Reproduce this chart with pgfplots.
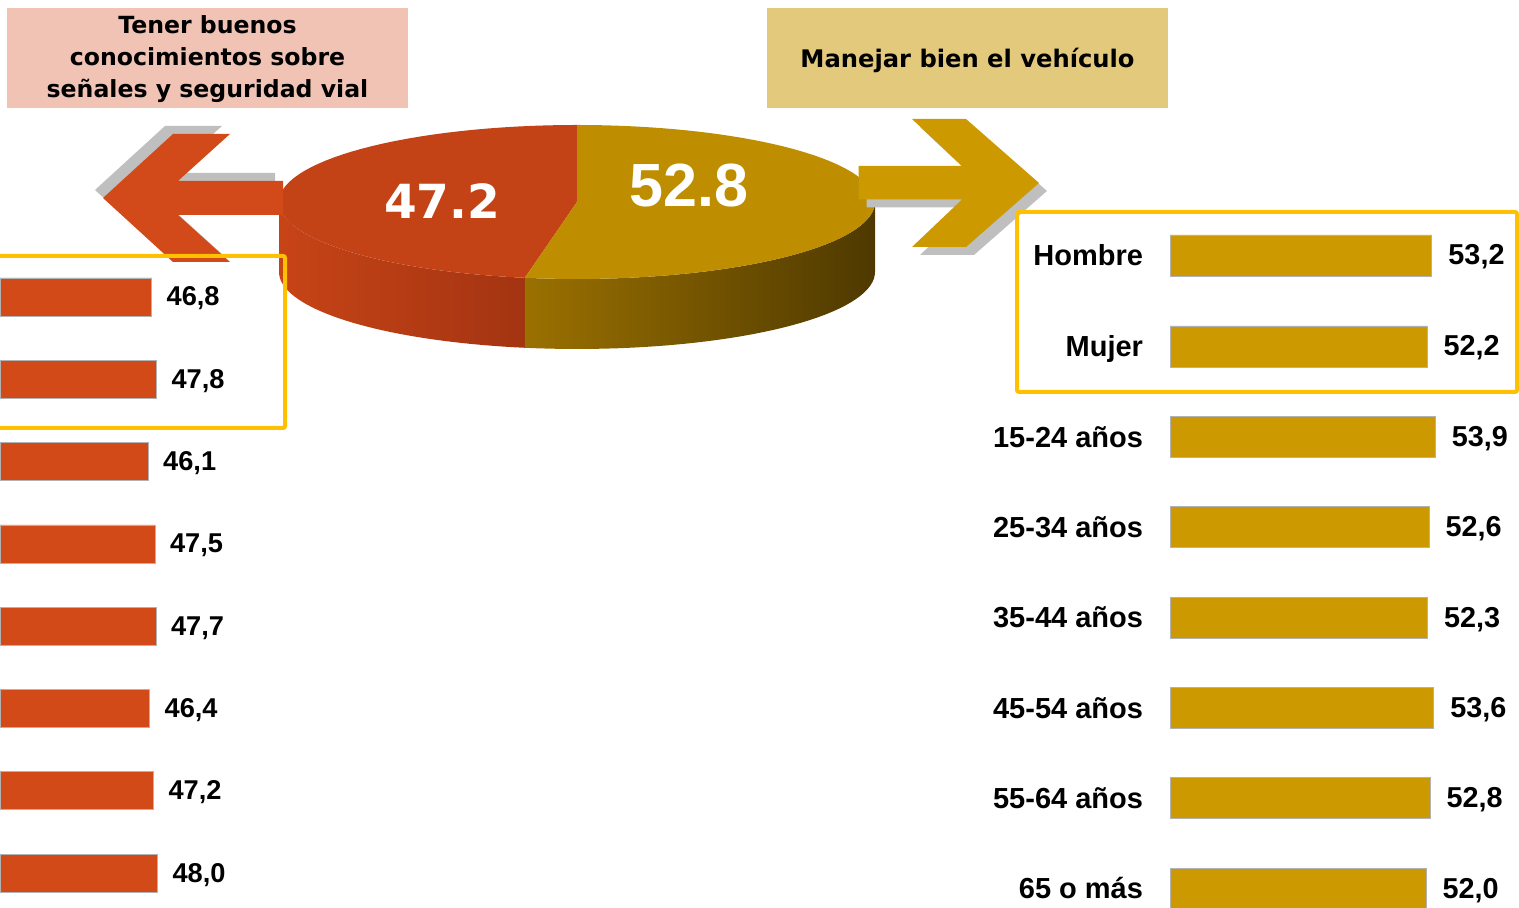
\documentclass[border=0pt]{standalone}
\usepackage{pgfplots}
\pgfplotsset{compat=1.18}
\usepackage{pgfplotstable}
\usepackage{fontspec}
\setmainfont{Liberation Sans}
\newfontfamily\dvs{DejaVu Sans}

\definecolor{leftbar}{RGB}{209,74,24}
\definecolor{rightbar}{RGB}{204,153,0}
\definecolor{pinkbox}{RGB}{241,195,180}
\definecolor{tanbox}{RGB}{227,201,124}
\definecolor{redtop}{RGB}{196,67,22}
\definecolor{goldtop}{RGB}{190,142,0}
\definecolor{redsideL}{RGB}{199,68,22}
\definecolor{redsideR}{RGB}{163,52,18}
\definecolor{goldsideL}{RGB}{154,112,0}
\definecolor{goldsideR}{RGB}{78,57,0}
\definecolor{arrowred}{RGB}{210,74,25}
\definecolor{arrowgold}{RGB}{204,153,0}
\definecolor{shadowgray}{RGB}{191,191,191}
\definecolor{framey}{RGB}{255,192,0}

\pgfplotstableread{
y v
-297.0 46.8
-379.3 47.8
-461.6 46.1
-543.9 47.5
-626.2 47.7
-708.5 46.4
-790.8 47.2
-873.1 48.0
}\lefttab

\pgfplotstableread{
y v
-255.5 53.2
-346.5 52.2
-436.7 53.9
-527.3 52.6
-617.6 52.3
-708.0 53.6
-798.0 52.8
-888.6 52.0
}\righttab

\def\pieA{47.2}
\def\pieB{52.8}

\begin{document}
\begin{tikzpicture}
\useasboundingbox (0,0) rectangle (759.5pt,454pt);
\clip (0,0) rectangle (759.5pt,454pt);
\pgfmathsetmacro\ang{90+3.6*\pieA}
% ---------- decorations and pie ----------
\begin{axis}[at={(0,0)},anchor=south west,scale only axis,
  width=759.5pt,height=454pt,xmin=0,xmax=1519,ymin=-908,ymax=0,
  hide axis,clip=false]
  % title boxes
  \fill[pinkbox] (7,-8) rectangle (408,-108);
  \node[align=center,font=\dvs\bfseries\fontsize{11.8}{16}\selectfont] at (207.5,-59)
    {Tener buenos\\conocimientos sobre\\señales y seguridad vial};
  \fill[tanbox] (767,-8) rectangle (1168,-108);
  \node[font=\dvs\bfseries\fontsize{12.1}{16}\selectfont] at (967.5,-60)
    {Manejar bien el vehículo};
  % pie sides
  \shade[left color=redsideL,right color=redsideR]
    plot[domain=180:\ang,samples=40] ({577+298*cos(\x)},{-202+77*sin(\x)})
    -- plot[domain=\ang:180,samples=40] ({577+298*cos(\x)},{-272+77*sin(\x)}) -- cycle;
  \shade[left color=goldsideL,right color=goldsideR]
    plot[domain=\ang:360,samples=40] ({577+298*cos(\x)},{-202+77*sin(\x)})
    -- plot[domain=360:\ang,samples=40] ({577+298*cos(\x)},{-272+77*sin(\x)}) -- cycle;
  % pie top
  \fill[redtop] (577,-202) -- plot[domain=90:\ang,samples=60] ({577+298*cos(\x)},{-202+77*sin(\x)}) -- cycle;
  \fill[goldtop] (577,-202) -- plot[domain=\ang:450,samples=80] ({577+298*cos(\x)},{-202+77*sin(\x)}) -- cycle;
  \node[text=white,font=\dvs\bfseries\fontsize{23.5}{26}\selectfont] at (442,-201) {\pieA};
  \node[text=white,font=\bfseries\fontsize{30.5}{32}\selectfont] at (689,-186) {\pieB};
  % left arrow
  \fill[shadowgray] (95,-190) -- (165,-126) -- (222,-126) -- (170,-173) -- (275,-173)
    -- (275,-207) -- (170,-207) -- (222,-254) -- (165,-254) -- cycle;
  \fill[arrowred] (103,-198) -- (173,-134) -- (230,-134) -- (178,-181) -- (283,-181)
    -- (283,-215) -- (178,-215) -- (230,-262) -- (173,-262) -- cycle;
  % right arrow
  \fill[shadowgray] (866.5,-174) -- (970,-174) -- (920,-127) -- (974,-127) -- (1047,-191)
    -- (974,-255) -- (920,-255) -- (970,-207.5) -- (866.5,-207.5) -- cycle;
  \fill[arrowgold] (858.5,-166) -- (962,-166) -- (912,-119) -- (966,-119) -- (1039,-183)
    -- (966,-247) -- (912,-247) -- (962,-199.5) -- (858.5,-199.5) -- cycle;
  % highlight frames
  \draw[framey,line width=2pt,rounded corners=1pt] (-10,-256) rectangle (285,-428);
  \draw[framey,line width=2pt,rounded corners=1pt] (1017,-212) rectangle (1517,-392);
\end{axis}
% ---------- left bars ----------
\begin{axis}[at={(0,0)},anchor=south west,scale only axis,
  width=150pt,height=454pt,xmin=15.96,xmax=76.93,ymin=-908,ymax=0,
  hide axis,clip=true,/pgf/number format/assume math mode=true]
  \addplot[xbar,bar width=38,fill=leftbar,draw=black!30,line width=0.3pt,
    point meta=x,
    nodes near coords={\pgfmathprintnumber[fixed,fixed zerofill,precision=1,use comma]{\pgfplotspointmeta}},
    nodes near coords style={anchor=west,inner sep=0pt,xshift=7.3pt,yshift=-0.8pt,
      font=\bfseries\fontsize{13.6}{15}\selectfont,text=black}]
    table[x=v,y=y]{\lefttab};
\end{axis}
% ---------- right bars ----------
\begin{axis}[at={(585pt,0)},anchor=south west,scale only axis,
  width=174.5pt,height=454pt,xmin=0,xmax=70.93,ymin=-908,ymax=0,
  axis line style={draw=none},tick style={draw=none},major tick length=0pt,
  xtick=\empty,
  ytick={-255.5,-346.5,-436.7,-527.3,-617.6,-708.0,-798.0,-888.6},
  yticklabels={Hombre,Mujer,15-24 años,25-34 años,35-44 años,45-54 años,55-64 años,65 o más},
  yticklabel style={anchor=base east,inner sep=0pt,xshift=-13.3pt,yshift=-5.2pt,
    font=\bfseries\fontsize{14.5}{16}\selectfont},
  clip=true,/pgf/number format/assume math mode=true]
  \addplot[xbar,bar width=41,fill=rightbar,draw=black!30,line width=0.3pt,
    point meta=x,
    nodes near coords={\pgfmathprintnumber[fixed,fixed zerofill,precision=1,use comma]{\pgfplotspointmeta}},
    nodes near coords style={anchor=west,inner sep=0pt,xshift=8.2pt,yshift=-0.8pt,
      font=\bfseries\fontsize{14.4}{16}\selectfont,text=black}]
    table[x=v,y=y]{\righttab};
\end{axis}
\end{tikzpicture}
\end{document}
